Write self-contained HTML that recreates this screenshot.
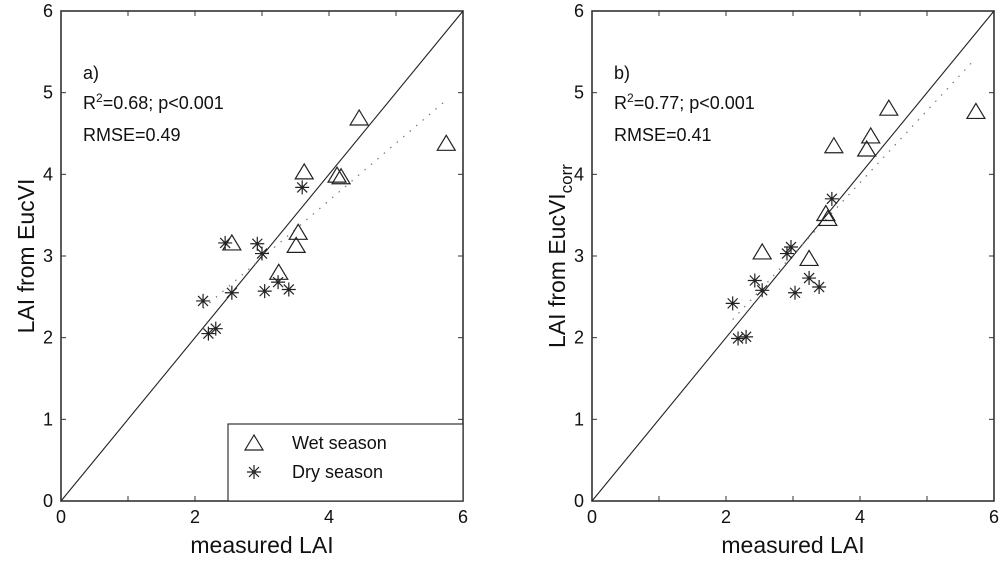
<!DOCTYPE html>
<html><head><meta charset="utf-8"><style>
body{margin:0;background:#fff;}
svg text{font-family:"Liberation Sans",sans-serif;fill:#111;}
</style></head><body>
<svg width="1000" height="565" viewBox="0 0 1000 565" xmlns="http://www.w3.org/2000/svg" id="chart"></svg>
<script>
// Panel a data
const wetAX=[4.45,5.75,3.63,4.12,4.18,3.54,3.51,2.55,3.25];
const wetAY=[4.69,4.38,4.03,3.99,3.97,3.29,3.13,3.16,2.80];
const dryAX=[3.60,2.45,2.93,3.00,3.24,3.40,3.04,2.55,2.12,2.31,2.20];
const dryAY=[3.84,3.16,3.15,3.03,2.68,2.59,2.57,2.55,2.45,2.11,2.05];
// Panel b data
const wetBX=[4.43,5.73,4.16,4.10,3.61,3.52,3.49,2.54,3.24];
const wetBY=[4.81,4.77,4.47,4.31,4.35,3.46,3.52,3.05,2.97];
const dryBX=[3.58,2.97,2.91,2.43,2.54,3.24,3.39,3.03,2.10,2.30,2.18];
const dryBY=[3.70,3.11,3.03,2.70,2.58,2.73,2.62,2.55,2.42,2.01,1.99];
const ticks=[0,1,2,3,4,5,6];

const svg=document.getElementById('chart');
const NS='http://www.w3.org/2000/svg';
function mk(tag,attrs,parent){const e=document.createElementNS(NS,tag);for(const k in attrs)e.setAttribute(k,attrs[k]);(parent||svg).appendChild(e);return e;}

function panel(left,label,wx,wy,dx,dy,r2,rmse,ylab,pname,legend){
  const top=11,bottom=501,right=left+402;
  const sx=v=>left+v*(right-left)/6, sy=v=>bottom-v*(bottom-top)/6;
  const g=mk('g',{});
  
  
  const ax=mk('rect',{x:left,y:top,width:right-left,height:bottom-top,fill:'none',stroke:'#333','stroke-width':1.6},g);
  
  ticks.forEach(t=>{
    mk('line',{x1:sx(t),x2:sx(t),y1:bottom,y2:bottom-5,stroke:'#333'},g);
    mk('line',{x1:sx(t),x2:sx(t),y1:top,y2:top+5,stroke:'#333'},g);
    mk('line',{x1:left,x2:left+5,y1:sy(t),y2:sy(t),stroke:'#333'},g);
    mk('line',{x1:right,x2:right-5,y1:sy(t),y2:sy(t),stroke:'#333'},g);
    if(t%2===0){const xt=mk('text',{x:sx(t),y:bottom+22,'text-anchor':'middle','font-size':18},g);xt.textContent=t;
      }
    const yt=mk('text',{x:left-8,y:sy(t)+6,'text-anchor':'end','font-size':18},g);yt.textContent=t;
    
  });
  const l1=mk('line',{x1:sx(0),y1:sy(0),x2:sx(6),y2:sy(6),stroke:'#222','stroke-width':1.1},g);
  
  const X=wx.concat(dx),Y=wy.concat(dy),n=X.length;
  const mx=X.reduce((a,b)=>a+b)/n,my=Y.reduce((a,b)=>a+b)/n;
  let sxy=0,sxx=0;for(let i=0;i<n;i++){sxy+=(X[i]-mx)*(Y[i]-my);sxx+=(X[i]-mx)**2;}
  const b=sxy/sxx,a=my-b*mx;const x0=Math.min(...X),x1=Math.max(...X);
  const rl=mk('line',{x1:sx(x0),y1:sy(a+b*x0),x2:sx(x1),y2:sy(a+b*x1),stroke:'#777','stroke-width':1.2,'stroke-dasharray':'1.5 7'},g);
  
  const tri=(cx,cy,p)=>mk('polygon',{points:`${cx-9},${cy+7} ${cx+9},${cy+7} ${cx},${cy-8}`,fill:'none',stroke:'#222','stroke-width':1.2},p);
  const star=(cx,cy,p)=>mk('path',{d:`M${cx-7} ${cy}H${cx+7}M${cx} ${cy-7}V${cy+7}M${cx-5} ${cy-5}L${cx+5} ${cy+5}M${cx-5} ${cy+5}L${cx+5} ${cy-5}`,stroke:'#222','stroke-width':1.2},p);
  wx.forEach((v,i)=>{const t=tri(sx(v),sy(wy[i]),g);
    });
  dx.forEach((v,i)=>{const s=star(sx(v),sy(dy[i]),g);
    });
  const pl=mk('text',{x:left+22,y:79,'font-size':18},g);pl.textContent=label;
  
  const rt=mk('text',{x:left+22,y:109,'font-size':18},g);
  rt.innerHTML='R<tspan dy="-7" font-size="12">2</tspan><tspan dy="7">='+r2+'; p&lt;0.001</tspan>';
  
  const rm=mk('text',{x:left+22,y:141,'font-size':18},g);rm.textContent='RMSE='+rmse;
  
  const xl=mk('text',{x:(left+right)/2,y:553,'text-anchor':'middle','font-size':23},g);xl.textContent='measured LAI';
  
  const yl=mk('text',{x:0,y:0,'text-anchor':'middle','font-size':23,transform:`translate(${left-27},256) rotate(-90)`},g);
  yl.innerHTML=ylab;
  
  if(legend){
    const lg=mk('g',{},g);
    
    mk('rect',{x:228,y:424,width:235,height:77,fill:'#fff',stroke:'#333','stroke-width':1.2},lg);
    const t=tri(254,443,lg);
    const s=star(254,472,lg);
    const w=mk('text',{x:292,y:449,'font-size':18},lg);w.textContent='Wet season';
    
    const d=mk('text',{x:292,y:478,'font-size':18},lg);d.textContent='Dry season';
    
  }
}
panel(61,'a)',wetAX,wetAY,dryAX,dryAY,'0.68','0.49','LAI from EucVI','panel-a',true);
panel(592,'b)',wetBX,wetBY,dryBX,dryBY,'0.77','0.41','LAI from EucVI<tspan dy="7" font-size="17">corr</tspan>','panel-b',false);
</script>
</body></html>
